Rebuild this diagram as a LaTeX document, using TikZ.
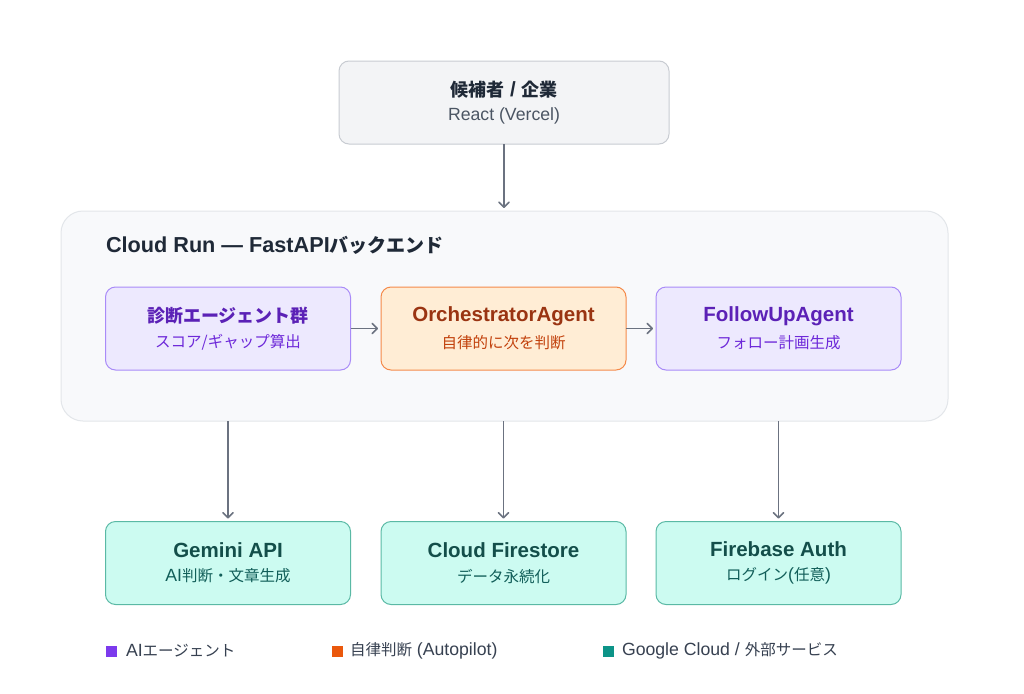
\documentclass[tikz,border=0pt]{standalone}
\usepackage{fontspec}
\setmainfont{Liberation Sans}[Scale=1.14]
\newfontfamily\jpfont{Noto Sans CJK JP}
\usetikzlibrary{arrows.meta}

\definecolor{graybg}{HTML}{F3F4F6}
\definecolor{grayln}{HTML}{C8CCD2}
\definecolor{runbg}{HTML}{F8F9FB}
\definecolor{runln}{HTML}{E3E6EA}
\definecolor{agentbg}{HTML}{EDE9FE}
\definecolor{agentln}{HTML}{A98BF8}
\definecolor{agentttl}{HTML}{5B21B6}
\definecolor{agentsub}{HTML}{6D28D9}
\definecolor{autobg}{HTML}{FFEDD5}
\definecolor{autoln}{HTML}{F58A4A}
\definecolor{autottl}{HTML}{9A3412}
\definecolor{autosub}{HTML}{C2410C}
\definecolor{cloudbg}{HTML}{CCFBF1}
\definecolor{cloudln}{HTML}{5AB9A5}
\definecolor{cloudttl}{HTML}{134E4A}
\definecolor{cloudsub}{HTML}{115E59}
\definecolor{arrowc}{HTML}{6B7280}
\definecolor{inkc}{HTML}{1F2937}
\definecolor{mutedc}{HTML}{4B5563}
\definecolor{legendc}{HTML}{374151}
\definecolor{keyagent}{HTML}{7C3AED}
\definecolor{keyauto}{HTML}{EA580C}
\definecolor{keycloud}{HTML}{0D9488}

\newcommand{\ja}[1]{{\jpfont #1}}
\newcommand{\ttlfont}{\bfseries\fontsize{18}{21}\selectfont}
\newcommand{\subfont}{\fontsize{15.5}{18}\selectfont}

\begin{document}
\begin{tikzpicture}[x=1pt,y=-1pt,
  >={Straight Barb[length=5pt,width=10pt,line cap=round,line join=round]},
  every node/.style={inner sep=0pt,outer sep=0pt},
  card/.style={draw,line width=1pt,rounded corners=10pt,minimum width=245pt,
    minimum height=83pt,align=center},
  userbox/.style={card,fill=graybg,draw=grayln,minimum width=330pt},
  agentbox/.style={card,fill=agentbg,draw=agentln},
  autobox/.style={card,fill=autobg,draw=autoln},
  cloudbox/.style={card,fill=cloudbg,draw=cloudln},
  flow/.style={->,draw=arrowc,line width=1.5pt},
  swatch/.style={minimum size=11pt,anchor=west},
  legtext/.style={anchor=west,text=legendc,font=\fontsize{15.5}{18}\selectfont}]
  \useasboundingbox (0,0) rectangle (1024,693);
  \fill[white] (0,0) rectangle (1024,693);

  % client
  \node[userbox] (user) at (504,102.5)
    {\color{inkc}\ttlfont \ja{候補者} / \ja{企業}\\[9pt]\color{mutedc}\subfont React (Vercel)};

  % backend container
  \draw[fill=runbg,draw=runln,line width=1pt,rounded corners=22pt]
    (61,211) rectangle (948,421);
  \coordinate (runtop) at (504,211);
  \node[anchor=west,text=inkc,font=\fontsize{19}{22}\selectfont\bfseries] (runtitle)
    at (106,245) {Cloud Run — FastAPI\ja{バックエンド}};

  \node[agentbox] (diag) at (228,328.5)
    {\color{agentttl}\ttlfont\ja{診断エージェント群}\\[9pt]\color{agentsub}\subfont\ja{スコア/ギャップ算出}};
  \node[autobox] (orch) at (503.5,328.5)
    {\color{autottl}\ttlfont OrchestratorAgent\\[9pt]\color{autosub}\subfont\ja{自律的に次を判断}};
  \node[agentbox] (follow) at (778.5,328.5)
    {\color{agentttl}\ttlfont FollowUpAgent\\[9pt]\color{agentsub}\subfont\ja{フォロー計画生成}};

  % services
  \node[cloudbox] (gemini) at (228,563)
    {\color{cloudttl}\ttlfont Gemini API\\[10pt]\color{cloudsub}\subfont AI\ja{判断・文章生成}};
  \node[cloudbox] (store) at (503.5,563)
    {\color{cloudttl}\ttlfont Cloud Firestore\\[10pt]\color{cloudsub}\subfont\ja{データ永続化}};
  \node[cloudbox] (auth) at (778.5,563)
    {\color{cloudttl}\ttlfont Firebase Auth\\[10pt]\color{cloudsub}\subfont\ja{ログイン}(\ja{任意})};

  \coordinate (outA) at (228,421);
  \coordinate (outB) at (503.5,421);
  \coordinate (outC) at (778.5,421);

  \draw[flow] (user.south) -- ([yshift=3pt]runtop);
  \draw[flow] (diag) -- ([xshift=-3pt]orch.west);
  \draw[flow] (orch) -- ([xshift=-3pt]follow.west);
  \draw[flow] (outA) -- ([yshift=3pt]gemini.north);
  \draw[flow] (outB) -- ([yshift=3pt]store.north);
  \draw[flow] (outC) -- ([yshift=3pt]auth.north);

  % legend
  \node[swatch,fill=keyagent] (keyA) at (106,651) {};
  \node[legtext] (keyAtext) at (126,651) {AI\ja{エージェント}};
  \node[swatch,fill=keyauto] (keyB) at (332,651) {};
  \node[legtext] (keyBtext) at (350,651) {\ja{自律判断} (Autopilot)};
  \node[swatch,fill=keycloud] (keyC) at (603,651) {};
  \node[legtext] (keyCtext) at (622,651) {Google Cloud / \ja{外部サービス}};
\end{tikzpicture}
\end{document}
